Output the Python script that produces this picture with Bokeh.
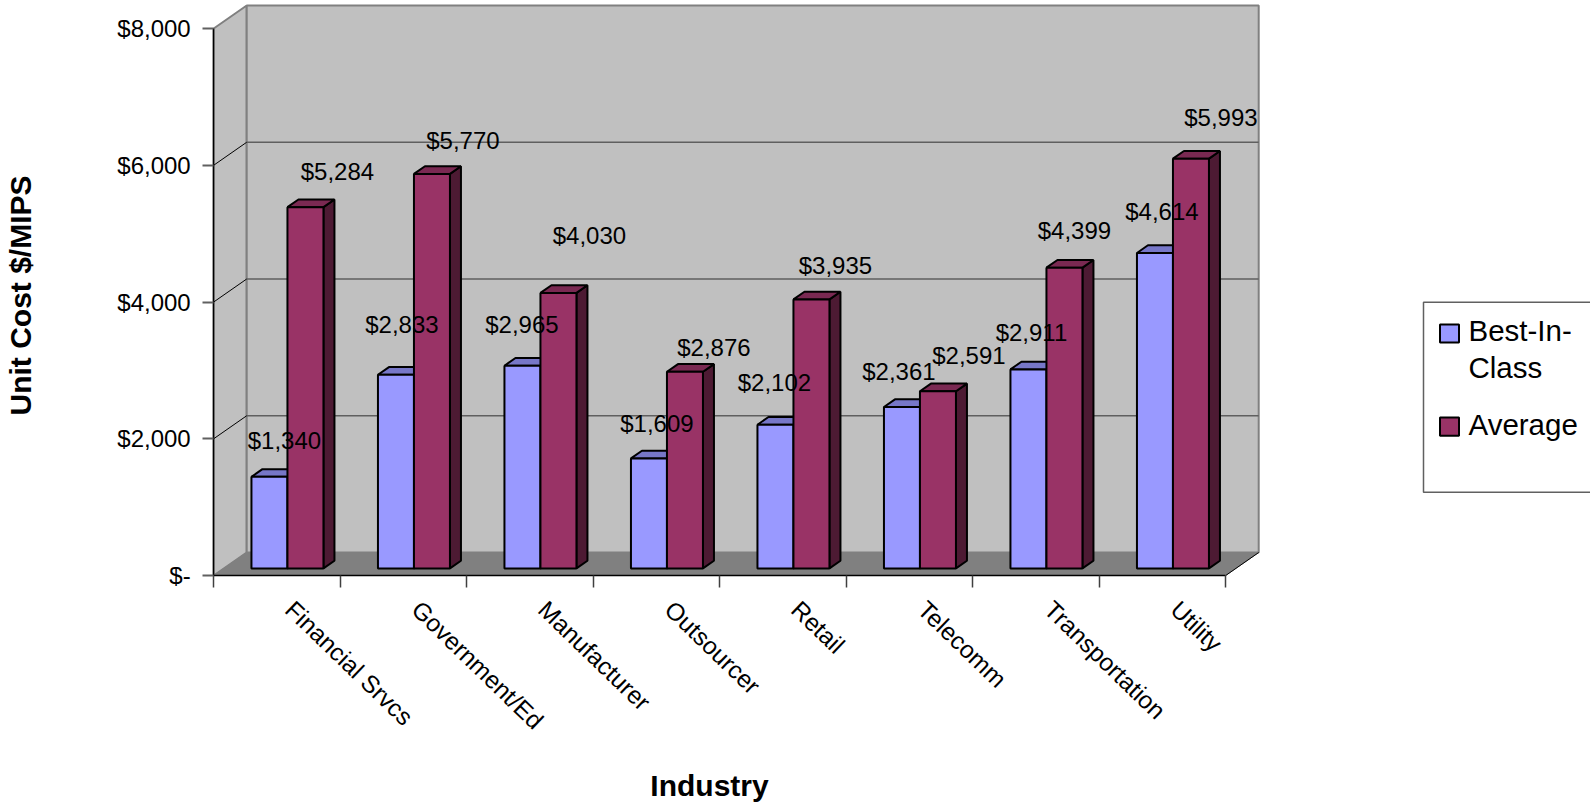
from math import pi, radians

from bokeh.core.properties import value
from bokeh.embed import file_html
from bokeh.models import ColumnDataSource, FixedTicker, LinearAxis, Range1d
from bokeh.plotting import figure
from bokeh.resources import INLINE

industries = ["Financial Srvcs", "Government/Ed", "Manufacturer", "Outsourcer",
              "Retail", "Telecomm", "Transportation", "Utility"]
best_in_class = [1340, 2833, 2965, 1609, 2102, 2361, 2911, 4614]
average = [5284, 5770, 4030, 2876, 3935, 2591, 4399, 5993]
y_ticks = [0, 2000, 4000, 6000, 8000]
y_tick_labels = ["$-", "$2,000", "$4,000", "$6,000", "$8,000"]

# Hand placement of the value labels, in pixels from the top centre of each bar
best_nudge_x = [15, 6, -0.5, 8, -1, -3, 3, 7]
best_nudge_y = [-35.7, -50, -41, -34, -41.5, -35, -36.7, -41]
avg_nudge_x = [32, 31, 31, 29, 24, 31, 10, 30]
avg_nudge_y = [-34.6, -33, -57, -24, -33.6, -35, -36.5, -41]

FONT = "Liberation Sans"

# Chart geometry
LEFT_PX, FLOOR_PX = 213.2, 575.0
CAT_PX = 126.5
PX_PER_DOLLAR = 136.75 / 2000
DEPTH_X = 33 / CAT_PX          # oblique depth of the box, category units
DEPTH_Y = 23 / PX_PER_DOLLAR   # oblique depth of the box, dollars
BAR_W = 36 / CAT_PX
BAR_GAP = 26.75 / CAT_PX
BAR_LIFT_Y = (23 / 3 - 0.6) / PX_PER_DOLLAR  # bars stand a third of the way into the box
N = len(industries)
Y_TOP = y_ticks[-1]
LABEL_SHIFT = 12.5 / CAT_PX    # category names start a little right of the group centre


def px_x(px):
    return (px - LEFT_PX) / CAT_PX


def px_y(px):
    return (FLOOR_PX - px) / PX_PER_DOLLAR


# The frame fills the page; both axes are pinned to the front corner of the box
p = figure(width=1590, height=805, output_backend="svg", toolbar_location=None,
           x_range=Range1d(px_x(0), px_x(1590)), y_range=Range1d(px_y(805), px_y(0)),
           x_axis_type=None, y_axis_type=None,
           min_border_left=0, min_border_right=0, min_border_top=0, min_border_bottom=0,
           outline_line_color=None, background_fill_color="white", border_fill_color="white")
p.grid.visible = False

# Walls and floor of the box
WALL = "#C0C0C0"
EDGE = "#808080"
p.patch([0, DEPTH_X, DEPTH_X, 0], [0, DEPTH_Y, Y_TOP + DEPTH_Y, Y_TOP],
        fill_color=WALL, line_color=EDGE, line_width=2)
p.patch([DEPTH_X, N + DEPTH_X, N + DEPTH_X, DEPTH_X],
        [DEPTH_Y, DEPTH_Y, Y_TOP + DEPTH_Y, Y_TOP + DEPTH_Y],
        fill_color=WALL, line_color=EDGE, line_width=2)
p.patch([0, N, N + DEPTH_X, DEPTH_X], [0, 0, DEPTH_Y, DEPTH_Y],
        fill_color=EDGE, line_color=EDGE, line_width=1)
p.segment([N], [0], [N + DEPTH_X], [DEPTH_Y], line_color="black", line_width=1)

# Gridlines run along the back wall and turn down the side wall to the axis
inner = y_ticks[1:-1]
p.segment([DEPTH_X] * 3, [v + DEPTH_Y for v in inner],
          [N + DEPTH_X] * 3, [v + DEPTH_Y for v in inner],
          line_color="#5F5F5F", line_width=1.5)
p.segment([0] * 3, inner, [DEPTH_X] * 3, [v + DEPTH_Y for v in inner],
          line_color="black", line_width=1)


def bar_faces(values, slot):
    """Front, top and side faces of one series; slot 0 or 1 within each group."""
    zx = DEPTH_X / 3
    zy = DEPTH_Y / 3
    left = [i + BAR_GAP + slot * BAR_W + zx for i in range(N)]
    right = [x + BAR_W for x in left]
    top = [v + BAR_LIFT_Y for v in values]
    front = dict(left=left, right=right, top=top, bottom=[BAR_LIFT_Y] * N)
    xs_top = [[a, b, b + zx, a + zx] for a, b in zip(left, right)]
    ys_top = [[t, t, t + zy, t + zy] for t in top]
    xs_side = [[b, b + zx, b + zx, b] for b in right]
    ys_side = [[BAR_LIFT_Y, BAR_LIFT_Y + zy, t + zy, t] for t in top]
    return front, xs_top, ys_top, xs_side, ys_side


def draw_series(values, slot, face, top_face, side_face):
    front, xs_top, ys_top, xs_side, ys_side = bar_faces(values, slot)
    p.patches(xs_side, ys_side, fill_color=side_face, line_color="black", line_width=2)
    p.patches(xs_top, ys_top, fill_color=top_face, line_color="black", line_width=2)
    return p.quad(source=ColumnDataSource(front), left="left", right="right", top="top",
                  bottom="bottom", fill_color=face, line_color="black", line_width=2)


draw_series(best_in_class, 0, "#9999FF", "#7777C8", "#4D4D80")
draw_series(average, 1, "#993366", "#7A2952", "#4D1A33")


def value_labels(values, slot, nudge_x, nudge_y):
    xs = [i + BAR_GAP + (slot + 0.5) * BAR_W + DEPTH_X / 3 for i in range(N)]
    ys = [v + DEPTH_Y / 3 for v in values]
    src = ColumnDataSource(dict(x=xs, y=ys, text=[f"${v:,}" for v in values],
                                nx=nudge_x, ny=nudge_y))
    p.text("x", "y", text="text", x_offset="nx", y_offset="ny", source=src,
           text_align="center", text_baseline="middle", text_color="black",
           text_font=value(FONT), text_font_size="24px")


value_labels(best_in_class, 0, best_nudge_x, best_nudge_y)
value_labels(average, 1, avg_nudge_x, avg_nudge_y)

# Value axis
y_axis = LinearAxis(ticker=FixedTicker(ticks=y_ticks), bounds=(0, Y_TOP), fixed_location=0,
                    major_label_overrides={t: s for t, s in zip(y_ticks, y_tick_labels)},
                    major_tick_in=0, major_tick_out=11, minor_tick_out=0, minor_tick_in=0,
                    major_tick_line_color="#606060", major_tick_line_width=2,
                    axis_line_color="black", axis_line_width=1.5,
                    major_label_standoff=12, major_label_text_font=FONT,
                    major_label_text_font_size="24px", major_label_text_color="black")
p.add_layout(y_axis, "left")

# Category axis: tick marks between groups, names near the group centres
centres = [round(i + 0.5 + LABEL_SHIFT, 4) for i in range(N)]
x_axis = LinearAxis(ticker=FixedTicker(ticks=centres, minor_ticks=list(range(N + 1))),
                    bounds=(0, N), fixed_location=0,
                    major_label_overrides={c: s for c, s in zip(centres, industries)},
                    major_tick_in=0, major_tick_out=0, minor_tick_in=0, minor_tick_out=12,
                    minor_tick_line_color="#404040", minor_tick_line_width=1.5,
                    axis_line_color="black", axis_line_width=1.5,
                    major_label_orientation=radians(-44), major_label_standoff=18,
                    major_label_text_font=FONT, major_label_text_font_size="24.5px",
                    major_label_text_color="black")
p.add_layout(x_axis, "below")

# Axis titles
title_style = dict(text_align="center", text_baseline="middle", text_color="black",
                   text_font=value(FONT), text_font_size="30px", text_font_style="bold")
p.text([px_x(709)], [px_y(785)], text=["Industry"], **title_style)
p.text([px_x(20)], [px_y(295)], text=["Unit Cost $/MIPS"], angle=pi / 2, **title_style)

# Legend panel; it runs off the right edge of the page
p.quad(left=[px_x(1423)], right=[px_x(1600)], top=[px_y(301.7)], bottom=[px_y(491.7)],
       fill_color="white", line_color="#606060", line_width=1.5)
p.quad(left=[px_x(1439.5)] * 2, right=[px_x(1458.5)] * 2, top=[px_y(324), px_y(417)],
       bottom=[px_y(342), px_y(435.3)], fill_color=["#9999FF", "#993366"],
       line_color="black", line_width=2)
p.text([px_x(1468)] * 3, [px_y(330), px_y(366.5), px_y(423.5)],
       text=["Best-In-", "Class", "Average"], text_align="left", text_baseline="middle",
       text_color="black", text_font=value(FONT), text_font_size="29.5px")

open("out.html", "w").write(file_html(p, INLINE))
